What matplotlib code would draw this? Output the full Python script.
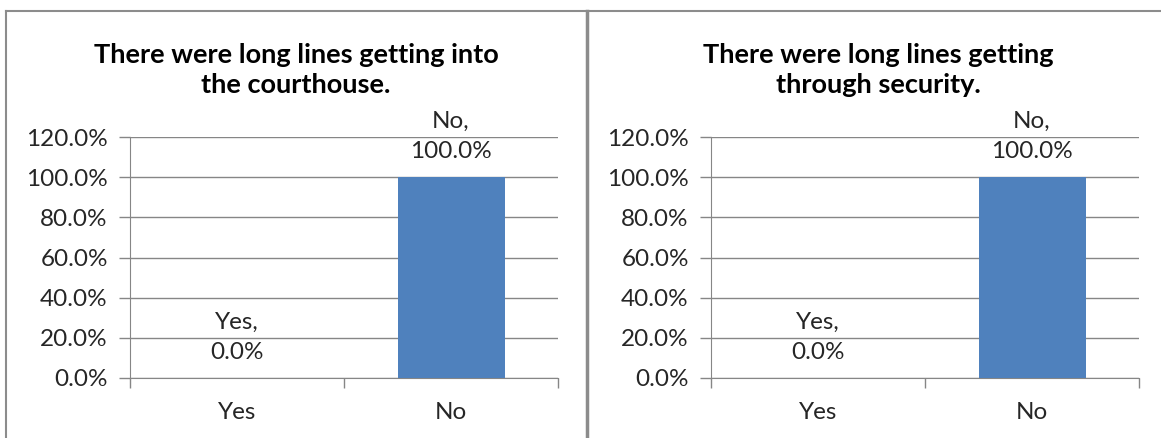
import matplotlib
matplotlib.use("Agg")
import matplotlib.pyplot as plt
from matplotlib.lines import Line2D
from matplotlib.ticker import FuncFormatter

plt.rcParams['font.family'] = ['Lato', 'DejaVu Sans']

categories = ["Yes", "No"]
titles = ["There were long lines getting into\nthe courthouse.",
          "There were long lines getting\nthrough security."]
values_left = [0.0, 100.0]
values_right = [0.0, 100.0]
yticks = [0, 20, 40, 60, 80, 100, 120]

W, H = 1161, 438
fig = plt.figure(figsize=(W / 100, H / 100), dpi=100)

bar_color = "#4F81BD"
grid_color = "#868686"
text_color = "#262626"
FS = 17.5

def add_panel(ax_left_px, panel_center_px, title, values):
    ax = fig.add_axes([ax_left_px / W, (H - 378) / H, 428 / W, 241 / H])
    x = list(range(len(categories)))
    ax.bar(x, values, width=0.5, color=bar_color, zorder=3)
    ax.set_xlim(-0.5, 1.5)
    ax.set_ylim(0, 120)
    ax.set_yticks(yticks)
    ax.yaxis.set_major_formatter(FuncFormatter(lambda v, p: f"{v:.1f}%"))
    ax.set_xticks(x)
    ax.set_xticklabels(categories)
    ax.set_xticks([-0.5, 0.5, 1.5], minor=True)
    ax.tick_params(axis='x', which='major', length=0, pad=17, labelsize=FS, labelcolor=text_color)
    ax.tick_params(axis='x', which='minor', length=7, color=grid_color, width=1, direction='out')
    ax.tick_params(axis='y', length=8, color=grid_color, width=1, pad=8, labelsize=FS, labelcolor=text_color)
    ax.grid(axis='y', color=grid_color, linewidth=1, zorder=0)
    for s in ['top', 'right']:
        ax.spines[s].set_visible(False)
    ax.spines['left'].set_color(grid_color)
    ax.spines['bottom'].set_color(grid_color)
    ax.set_axisbelow(True)
    for xi, v, c in zip(x, values, categories):
        ax.annotate(f"{c},\n{v:.1f}%", (xi, v), xytext=(0, 15), textcoords='offset pixels',
                    ha='center', va='bottom', fontsize=FS, color=text_color, linespacing=1.55)
    fig.text(panel_center_px / W, 1 - 70 / H, title, ha='center', va='center',
             fontsize=19.5, fontweight='bold', color='black', linespacing=1.3)
    return ax

add_panel(130, 296, titles[0], values_left)
add_panel(711, 878, titles[1], values_right)

border = "#8C8C8C"
def fline(xs, ys, lw):
    fig.add_artist(Line2D([v / W for v in xs], [1 - v / H for v in ys], color=border, linewidth=lw))

fline([6, 6], [11, 438], 1.5)
fline([6, 1161], [11, 11], 1.5)
fline([587, 587], [11, 438], 2.5)

fig.savefig("out.png", dpi=100)
